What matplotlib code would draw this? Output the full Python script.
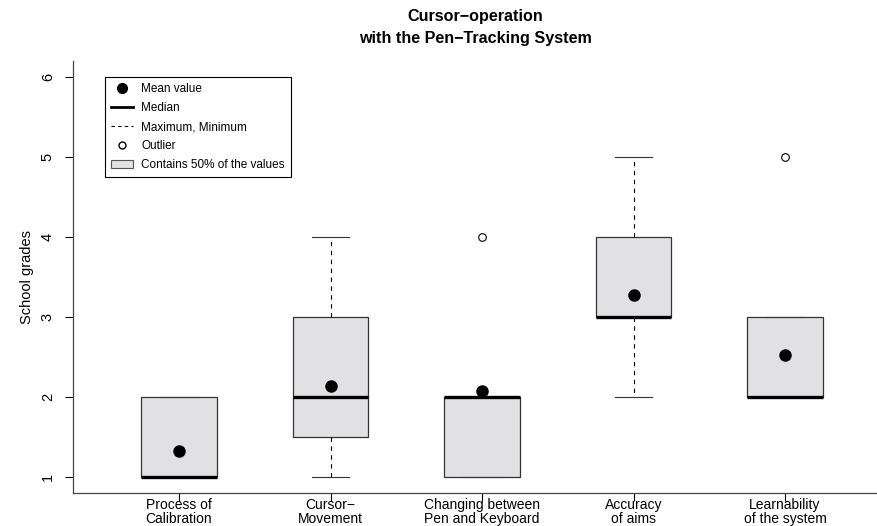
import matplotlib
matplotlib.use("Agg")
import matplotlib.pyplot as plt
from matplotlib.lines import Line2D
from matplotlib.patches import Patch

plt.rcParams['font.family'] = ['Liberation Sans', 'DejaVu Sans']

# data
labels = ["Process of\nCalibration", "Cursor\u2212\nMovement", "Changing between\nPen and Keyboard",
          "Accuracy\nof aims", "Learnability\nof the system"]
whislo = [1, 1, 1, 2, 2]
q1 = [1, 1.5, 1, 3, 2]
med = [1, 2, 2, 3, 2]
q3 = [2, 3, 2, 4, 3]
whishi = [2, 4, 2, 5, 3]
means = [1.33, 2.14, 2.07, 3.27, 2.53]
outliers = [[], [], [4], [], [5]]
legend_labels = ["Mean value", "Median", "Maximum, Minimum", "Outlier",
                 "Contains 50% of the values"]

stats = []
for i in range(len(labels)):
    stats.append(dict(whislo=whislo[i], q1=q1[i], med=med[i], q3=q3[i],
                      whishi=whishi[i], fliers=outliers[i], label=labels[i]))

fig = plt.figure(figsize=(8.78, 5.26), dpi=100)
ax = fig.add_axes([73/878, 33/526, 1 - 73/878, 432/526])

pos = list(range(1, len(labels) + 1))
ax.bxp(stats, positions=pos, widths=0.5, patch_artist=True, showfliers=True,
       boxprops=dict(facecolor="#e1e1e4", edgecolor="#333333", linewidth=0.9),
       medianprops=dict(color="black", linewidth=2.4, solid_capstyle="butt"),
       whiskerprops=dict(color="black", linestyle=(0, (4, 4)), linewidth=0.8),
       capprops=dict(color="#333333", linewidth=0.8),
       capwidths=0.25,
       flierprops=dict(marker="o", markerfacecolor="white", markeredgecolor="black",
                       markersize=5.5, markeredgewidth=0.8))
ax.plot(pos, means, "o", color="black", markersize=8, zorder=5)

ax.set_xlim(0.30, 5.614)
ax.set_ylim(0.8, 6.2)
ax.set_yticks([1, 2, 3, 4, 5, 6])
ax.set_yticklabels(["1", "2", "3", "4", "5", "6"], rotation=90, va="center")
ax.set_xticks(pos)
ax.set_xticklabels(labels, linespacing=1.05)
ax.tick_params(axis="x", length=5.5, width=0.8, pad=-2, labelsize=10)
ax.tick_params(axis="y", length=6, width=0.8, pad=7, labelsize=10.5)
ax.spines["top"].set_visible(False)
ax.spines["right"].set_visible(False)
for s in ("left", "bottom"):
    ax.spines[s].set_linewidth(0.9)
    ax.spines[s].set_color("#444444")
ax.set_ylabel("School grades", fontsize=10.5, labelpad=5)

tx = 0.5 + 73/878/2
fig.text(tx, 1 - 17/526, "Cursor\u2212operation", ha="center", va="center",
         fontsize=11.6, fontweight="bold")
fig.text(tx, 1 - 39/526, "with the Pen\u2212Tracking System", ha="center", va="center",
         fontsize=11.6, fontweight="bold")

handles = [
    Line2D([], [], marker="o", linestyle="none", color="black", markersize=7),
    Line2D([], [], color="black", linewidth=2),
    Line2D([], [], color="black", linewidth=0.8, linestyle=(0, (3, 3))),
    Line2D([], [], marker="o", linestyle="none", markerfacecolor="white",
           markeredgecolor="black", markersize=5),
    Patch(facecolor="#e1e1e4", edgecolor="#555555", linewidth=0.8),
]
leg = ax.legend(handles, legend_labels,
                loc="upper left", bbox_to_anchor=(32/805, 1 - 16/432), fontsize=8.5,
                frameon=True, fancybox=False, edgecolor="black", framealpha=1,
                handlelength=1.8, handletextpad=0.7, labelspacing=0.58,
                borderpad=0.55, borderaxespad=0)
leg.get_frame().set_linewidth(0.8)

fig.savefig("out.png", dpi=100)
